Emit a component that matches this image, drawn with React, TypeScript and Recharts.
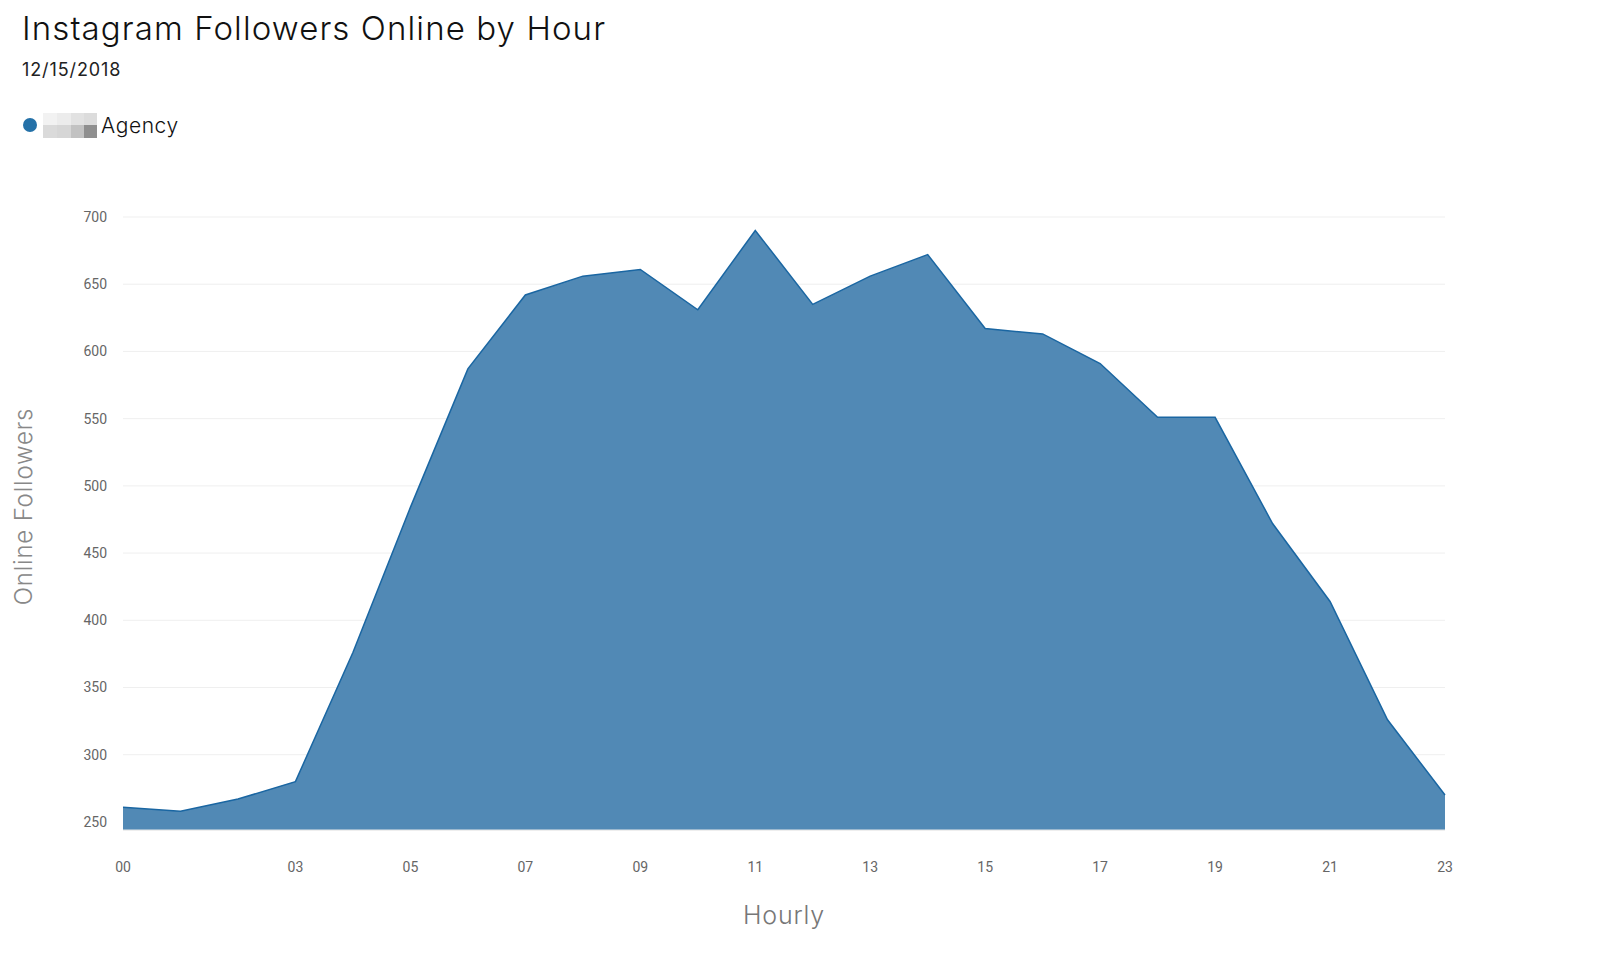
import React from 'react';
import { AreaChart, Area, XAxis, YAxis, CartesianGrid, Label } from 'recharts';

const hours = [0, 1, 2, 3, 4, 5, 6, 7, 8, 9, 10, 11, 12, 13, 14, 15, 16, 17, 18, 19, 20, 21, 22, 23];
const followers = [261, 258, 267, 280, 376, 484, 587, 642, 656, 661, 631, 690, 635, 656, 672, 617, 613, 591, 551, 551, 472, 414, 326, 270];
const xTicks = [0, 3, 5, 7, 9, 11, 13, 15, 17, 19, 21, 23];
const yTicks = [250, 300, 350, 400, 450, 500, 550, 600, 650, 700];
const seriesName = 'Agency';

const data = hours.map((h, i) => ({ hour: h, value: followers[i] }));

const FONT = 'Inter, "Open Sans", sans-serif';

const YLabel = (props: any) => {
  const vb = props.viewBox || {};
  const cx = 23;
  const cy = vb.y + vb.height / 2 - 17;
  return (
    <text
      x={cx}
      y={cy}
      transform={`rotate(-90, ${cx}, ${cy})`}
      textAnchor="middle"
      dominantBaseline="central"
      style={{ fill: '#888', fontSize: 24, fontWeight: 300, fontFamily: FONT, letterSpacing: 0.8 }}
    >
      Online Followers
    </text>
  );
};

export default function App() {
  return (
    <div style={{ position: 'absolute', left: 0, top: 0, width: 1600, height: 958, background: '#fff', fontFamily: FONT }}>
      <div style={{ position: 'absolute', left: 22, top: 8, fontSize: 33, fontWeight: 300, color: '#111', whiteSpace: 'nowrap', letterSpacing: 1.1 }}>
        Instagram Followers Online by Hour
      </div>
      <div style={{ position: 'absolute', left: 22, top: 59, fontSize: 18, fontWeight: 400, color: '#222', letterSpacing: 0.9 }}>12/15/2018</div>
      <div style={{ position: 'absolute', left: 23, top: 112, height: 26, display: 'flex', alignItems: 'center' }}>
        <div style={{ width: 14, height: 14, borderRadius: 7, background: '#2471a8' }} />
        <div style={{ position: 'relative', width: 54, height: 25, marginLeft: 6 }}>
          <div style={{ position: 'absolute', left: 0, top: 0, width: 14, height: 12, background: '#f2f2f2' }} />
          <div style={{ position: 'absolute', left: 14, top: 0, width: 14, height: 12, background: '#ececec' }} />
          <div style={{ position: 'absolute', left: 28, top: 0, width: 13, height: 12, background: '#e2e2e2' }} />
          <div style={{ position: 'absolute', left: 41, top: 0, width: 13, height: 12, background: '#dcdcdc' }} />
          <div style={{ position: 'absolute', left: 0, top: 12, width: 14, height: 13, background: '#dadada' }} />
          <div style={{ position: 'absolute', left: 14, top: 12, width: 14, height: 13, background: '#d6d6d6' }} />
          <div style={{ position: 'absolute', left: 28, top: 12, width: 13, height: 13, background: '#c2c2c2' }} />
          <div style={{ position: 'absolute', left: 41, top: 12, width: 13, height: 13, background: '#8f8f8f' }} />
        </div>
        <div style={{ marginLeft: 4, fontSize: 21, fontWeight: 300, color: '#111', letterSpacing: 0.6 }}>{seriesName}</div>
      </div>
      <AreaChart
        width={1600}
        height={958}
        data={data}
        margin={{ top: 217, right: 155, bottom: 0, left: 0 }}
        style={{ position: 'absolute', left: 0, top: 0 }}
      >
        <CartesianGrid vertical={false} stroke="#efefef" />
        <XAxis
          dataKey="hour"
          type="number"
          domain={[0, 23]}
          ticks={xTicks}
          interval={0}
          tickFormatter={(v: number) => String(v).padStart(2, '0')}
          height={128}
          tickLine={false}
          axisLine={{ stroke: '#e6e6e6' }}
          tickMargin={26}
          tick={{ fill: '#666', fontSize: 14, fontFamily: 'Roboto, sans-serif' }}
        >
          <Label value="Hourly" position="insideBottom" offset={34} style={{ fill: '#777', fontSize: 25, fontWeight: 300, fontFamily: FONT, letterSpacing: 0.8 }} />
        </XAxis>
        <YAxis
          type="number"
          domain={[244, 700]}
          ticks={yTicks}
          interval={0}
          width={123}
          tickLine={false}
          axisLine={false}
          tickMargin={10}
          tick={{ fill: '#666', fontSize: 14, fontFamily: 'Roboto, sans-serif' }}
        >
          <Label content={<YLabel />} />
        </YAxis>
        <Area
          type="linear"
          dataKey="value"
          name={seriesName}
          stroke="#1a66a2"
          strokeWidth={1.5}
          fill="#5189b5"
          fillOpacity={1}
          isAnimationActive={false}
          dot={false}
          activeDot={false}
        />
      </AreaChart>
    </div>
  );
}
